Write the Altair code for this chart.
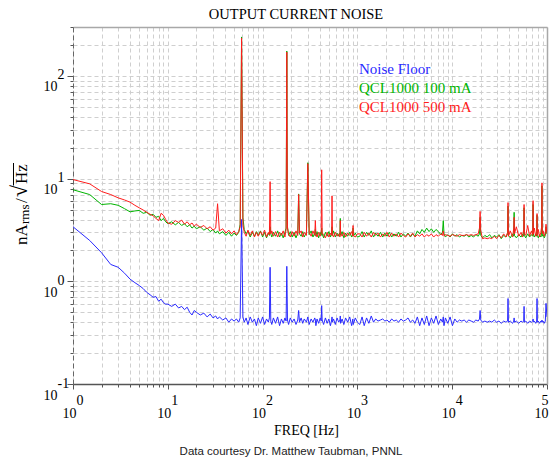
import altair as alt
import pandas as pd

TITLE = "OUTPUT CURRENT NOISE"
X_TITLE = "FREQ [Hz]"
FOOTER = "Data courtesy Dr. Matthew Taubman, PNNL"
series_names = ["Noise Floor", "QCL1000 100 mA", "QCL1000 500 mA"]
series_colors = ["#2a2aff", "#00b400", "#ff1c1c"]
y_title_parts = ["nA", "rms", "/", "\u221a", "Hz"]

x_tick_values = [m * d for d in [1, 10, 100, 1000, 10000] for m in range(1, 10)] + [100000]
y_tick_values = [m * d for d in [0.1, 1, 10] for m in range(1, 10)] + [100, 200, 300]

# ---- frequency bins (Hz) ----
freq_a = [1, 1.5, 2, 2.5, 3, 3.5, 4, 4.5, 5, 5.5, 6, 6.5, 7, 7.5, 8, 8.5, 9, 9.5]
freq_b = [10, 11, 12, 13, 14, 15, 16, 17, 18, 19, 20, 22, 24, 26, 28, 30, 32, 33.5,
          35, 38, 41, 44, 47, 50, 53, 56, 58]
freq_c = [60, 62, 64, 67, 70, 74, 78, 82, 86, 90,
          95, 100, 105, 110, 115, 118, 120, 122, 125, 130,
          137, 144, 151, 158, 165, 172, 177, 180, 183, 188,
          196, 205, 215, 225, 235, 240, 245, 255, 265, 275,
          290, 300, 310, 325, 340, 355, 360, 365, 375, 390,
          405, 415, 420, 425, 440, 460, 480, 500, 520, 535,
          540, 545, 560, 585, 610, 635, 655, 660, 665, 690,
          720, 750, 790, 830, 870, 895, 900, 905, 950, 1000]
freq_d = [1060, 1120, 1180, 1250, 1320, 1400, 1480, 1560, 1650, 1750,
          1850, 1950, 2050, 2170, 2300, 2430, 2570, 2720, 2880, 3050,
          3230, 3420, 3620, 3830, 4050, 4290, 4540, 4800, 5080, 5380,
          5700, 6030, 6380, 6750, 7150, 7570, 7900, 8050, 8200, 8480,
          8980, 9500, 10060, 10650, 11270, 11930, 12630, 13370, 14150, 14980,
          15860, 16790, 17770, 18810, 19400, 19700, 20000, 20900, 22100, 23400,
          24800, 26200, 27800, 29400, 31100, 32900, 34900, 36900, 38400, 38800,
          39200, 41000, 43400, 44600, 45000, 45400, 47500, 50300, 53200, 55300,
          56800, 57300, 57800, 59700, 62600, 65500, 68600, 70600, 71300, 72000,
          73500, 76000, 77800, 78500, 79200, 81000, 83500, 86000, 87800, 88500,
          89200, 91000, 93500, 96000, 97600, 100000]

# ---- Noise Floor (nA rms / sqrt(Hz)) ----
floor_a = [3.4, 2.5, 1.9, 1.46, 1.37, 1.2, 1.05, 0.97, 0.91, 0.85, 0.78, 0.74, 0.70, 0.71,
           0.64, 0.67, 0.62, 0.60]
floor_b = [0.60, 0.57, 0.60, 0.55, 0.57, 0.53, 0.56, 0.50, 0.47, 0.52,
           0.50, 0.47, 0.49, 0.45, 0.48, 0.44, 0.46, 0.43, 0.45, 0.42,
           0.44, 0.40, 0.43, 0.41, 0.43, 0.40, 0.44]
floor_c = [4.0, 0.45, 0.40, 0.44, 0.38, 0.45, 0.40, 0.43, 0.37, 0.44,
           0.39, 0.45, 0.38, 0.43, 0.40, 0.44, 1.37, 0.41, 0.38, 0.44,
           0.39, 0.45, 0.37, 0.43, 0.39, 0.44, 0.41, 1.40, 0.42, 0.38,
           0.44, 0.40, 0.43, 0.38, 0.42, 0.52, 0.40, 0.44, 0.39, 0.43,
           0.40, 0.45, 0.38, 0.43, 0.40, 0.44, 0.42, 0.37, 0.43, 0.39,
           0.44, 0.41, 0.58, 0.42, 0.38, 0.44, 0.39, 0.43, 0.37, 0.42,
           0.45, 0.40, 0.43, 0.38, 0.44, 0.40, 0.42, 0.46, 0.39, 0.43,
           0.38, 0.44, 0.40, 0.45, 0.37, 0.43, 0.41, 0.38, 0.44, 0.40]
floor_d = [0.38, 0.45, 0.37, 0.44, 0.39, 0.46, 0.40, 0.43, 0.41, 0.42,
           0.43, 0.41, 0.42, 0.40, 0.43, 0.41, 0.42, 0.40, 0.43, 0.41,
           0.42, 0.44, 0.40, 0.42, 0.39, 0.45, 0.37, 0.44, 0.38, 0.46,
           0.37, 0.44, 0.39, 0.46, 0.38, 0.43, 0.40, 0.45, 0.37, 0.44,
           0.39, 0.45, 0.37, 0.43, 0.40, 0.42, 0.41, 0.42, 0.40, 0.42,
           0.41, 0.40, 0.42, 0.41, 0.43, 0.52, 0.42, 0.40, 0.41, 0.40,
           0.41, 0.40, 0.42, 0.40, 0.41, 0.39, 0.41, 0.40, 0.41, 0.68,
           0.40, 0.41, 0.39, 0.41, 0.44, 0.40, 0.41, 0.39, 0.41, 0.40,
           0.41, 0.57, 0.40, 0.41, 0.39, 0.41, 0.40, 0.41, 0.43, 0.40,
           0.41, 0.39, 0.41, 0.68, 0.40, 0.41, 0.39, 0.41, 0.40, 0.42,
           0.40, 0.41, 0.39, 0.41, 0.61, 0.45]

# ---- QCL1000 100 mA ----
q100_a = [7.8, 7.0, 5.6, 5.7, 5.5, 5.1, 4.75, 4.85, 4.9, 4.6, 4.7, 4.4, 4.5, 4.2, 4.3, 3.9,
          4.1, 3.8]
q100_b = [3.65, 3.8, 3.55, 3.75, 3.5, 3.65, 3.4, 3.55, 3.3, 3.45,
          3.25, 3.4, 3.15, 3.3, 3.05, 3.2, 2.95, 3.1, 2.9, 3.05,
          2.8, 3.0, 2.75, 2.95, 2.8, 3.0, 3.6]
q100_c = [240, 4.2, 3.2, 2.9, 3.1, 2.7, 3.0, 2.75, 3.05, 2.8,
          3.1, 2.7, 3.0, 2.65, 2.95, 2.8, 3.4, 2.9, 2.7, 3.0,
          2.75, 3.1, 2.7, 2.95, 2.65, 3.0, 3.3, 175, 3.4, 2.8,
          3.05, 2.7, 3.0, 2.65, 2.95, 7.1, 2.9, 2.75, 3.05, 2.7,
          3.0, 14.3, 2.85, 3.1, 2.7, 2.95, 3.2, 2.75, 3.05, 2.65,
          3.0, 2.8, 3.3, 2.9, 2.65, 3.0, 2.75, 3.05, 2.7, 2.95,
          3.4, 2.8, 3.1, 2.7, 2.95, 2.75, 3.0, 4.1, 2.8, 3.05,
          2.65, 2.95, 2.75, 3.0, 2.7, 2.9, 3.3, 2.75, 2.95, 2.7]
q100_d = [2.75, 3.05, 2.7, 3.0, 2.8, 3.1, 2.7, 2.95, 2.75, 3.0,
          2.7, 2.95, 2.75, 3.0, 2.7, 2.9, 2.75, 3.0, 2.7, 2.9,
          2.75, 2.95, 2.7, 2.9, 2.75, 3.1, 2.9, 3.2, 3.0, 3.3,
          3.05, 3.25, 3.0, 3.2, 3.05, 2.85, 3.0, 3.9, 2.9, 2.7,
          2.85, 2.7, 2.9, 2.75, 2.85, 2.7, 2.8, 2.75, 2.85, 2.7,
          2.8, 2.7, 2.85, 2.75, 2.9, 4.2, 2.8, 2.65, 2.8, 2.7,
          2.85, 2.65, 2.8, 2.7, 2.85, 2.6, 2.8, 2.7, 2.9, 5.4,
          2.8, 2.65, 2.9, 2.75, 4.7, 2.8, 2.65, 2.85, 2.7, 2.9,
          2.75, 5.2, 2.8, 2.65, 2.9, 2.7, 2.85, 2.75, 5.6, 2.8,
          2.7, 2.9, 2.75, 4.4, 2.8, 2.65, 2.85, 2.7, 2.8, 8.5,
          2.75, 2.85, 2.65, 2.8, 3.4, 2.9]

# ---- QCL1000 500 mA ----
q500_a = [9.8, 8.9, 7.5, 7.0, 6.5, 6.2, 5.9, 5.5, 5.2, 4.95, 4.7, 4.5, 4.35, 4.1, 3.9, 4.6,
          4.4, 4.0]
q500_b = [3.7, 3.6, 3.9, 3.75, 3.95, 3.6, 3.8, 3.55, 3.7, 3.45,
          3.6, 3.35, 3.5, 3.25, 3.4, 3.15, 3.3, 5.7, 3.1, 3.25,
          2.95, 3.15, 2.9, 3.1, 2.85, 3.05, 3.4]
q500_c = [234, 3.6, 3.0, 2.75, 3.15, 2.8, 3.1, 2.7, 3.0, 2.75,
          3.05, 2.8, 3.15, 2.7, 3.0, 2.85, 9.35, 2.9, 3.1, 2.75,
          3.05, 2.7, 3.0, 2.8, 3.1, 2.7, 3.2, 171, 3.3, 2.9,
          2.7, 3.05, 2.75, 3.1, 2.8, 7.0, 2.95, 3.1, 2.7, 3.0,
          2.8, 14.0, 3.0, 2.75, 3.1, 2.8, 3.91, 2.9, 2.7, 3.0,
          2.75, 2.95, 12.2, 3.0, 2.8, 2.65, 3.0, 2.7, 2.95, 2.8,
          6.8, 2.9, 2.7, 3.0, 2.75, 2.9, 2.7, 3.9, 2.95, 2.75,
          3.0, 2.7, 2.95, 2.8, 3.05, 2.75, 3.5, 2.8, 2.7, 2.9]
q500_d = [2.9, 2.7, 3.0, 2.75, 2.95, 2.7, 3.0, 2.8, 2.95, 2.7,
          2.9, 2.75, 3.0, 2.7, 2.95, 2.75, 2.9, 2.7, 2.95, 2.8,
          2.7, 2.9, 2.75, 2.95, 2.7, 2.85, 2.75, 2.9, 2.7, 2.85,
          2.75, 2.9, 2.7, 2.85, 2.75, 2.9, 2.8, 3.1, 2.75, 2.85,
          2.8, 2.75, 2.85, 2.8, 2.75, 2.85, 2.8, 2.8, 2.85, 2.8,
          2.85, 2.8, 2.85, 2.9, 3.3, 4.8, 3.1, 2.6, 2.65, 2.6,
          2.65, 2.6, 2.75, 2.6, 2.8, 2.65, 2.9, 2.7, 3.0, 5.85,
          2.75, 3.1, 2.7, 3.3, 4.2, 2.9, 3.4, 2.75, 3.0, 2.7,
          3.2, 5.6, 2.9, 2.8, 3.5, 2.75, 3.1, 2.8, 6.1, 2.9,
          3.3, 2.75, 3.0, 4.57, 2.8, 3.2, 2.7, 3.0, 3.4, 9.1,
          2.9, 3.1, 2.75, 3.0, 3.6, 2.9]

df = pd.DataFrame({
    "freq": freq_a + freq_b + freq_c + freq_d,
    "floor": floor_a + floor_b + floor_c + floor_d,
    "q100": q100_a + q100_b + q100_c + q100_d,
    "q500": q500_a + q500_b + q500_c + q500_d,
})

# zero-width space keeps the non-breaking spaces from being trimmed
PAD4 = "\u200b" + "\u00a0" * 4
PAD2 = "\u200b" + "\u00a0" * 2
IS_DEC = "abs(log(datum.value)/LN10 - round(log(datum.value)/LN10)) < 0.001"
EXP = "round(log(datum.value)/LN10)"
Y_LABEL_EXPR = f"{IS_DEC} ? ['{PAD4}' + {EXP}, '10'] : ''"
X_LABEL_EXPR = (f"{IS_DEC} ? [(datum.value > 50000 ? '{PAD2}' : '{PAD4}') + {EXP}, '10'] : ''")
SERIF = "Liberation Serif"

x_scale = alt.Scale(type="log", domain=[1, 100000], nice=False)
y_scale = alt.Scale(type="log", domain=[0.1, 300], nice=False)

x_axis = alt.Axis(
    values=x_tick_values, labelExpr=X_LABEL_EXPR, labelFont=SERIF, labelFontSize=14,
    labelColor="black", labelAlign="left", labelBaseline="middle", labelLineHeight=13,
    labelOffset={"condition": {"test": "datum.value > 50000", "value": -13}, "value": -11},
    labelPadding=11, labelOverlap=False, labelFlush=False,
    tickSize={"condition": {"test": IS_DEC, "value": 5}, "value": 3},
    tickColor="#555555", domainColor="#555555", domainWidth=1.5,
    grid=True, gridColor="#cfcfcf", gridDash=[4, 3],
    title=X_TITLE, titleFont=SERIF, titleFontSize=14, titleFontWeight="normal",
    titleColor="black", titleX=233, titleY=46, titleAlign="center", titleBaseline="middle",
)
y_axis = alt.Axis(
    values=y_tick_values, labelExpr=Y_LABEL_EXPR, labelFont=SERIF, labelFontSize=14,
    labelColor="black", labelAlign="left", labelBaseline="middle", labelLineHeight=12,
    labelOffset=-1, labelPadding=24, labelOverlap=False, labelFlush=False,
    tickSize={"condition": {"test": IS_DEC, "value": 6}, "value": 3},
    tickColor="#555555", domainColor="#666666", domainDash=[5, 3], domainWidth=1,
    grid=True, gridColor="#cfcfcf", gridDash=[4, 3], title=None,
)

base = alt.Chart(df)
lines = []
for field, color in zip(["floor", "q100", "q500"], series_colors):
    lines.append(
        base.mark_line(color=color, strokeWidth=1, clip=True).encode(
            x=alt.X("freq:Q", scale=x_scale, axis=x_axis),
            y=alt.Y(f"{field}:Q", scale=y_scale, axis=y_axis),
        )
    )


def text_layer(text, x, y, size, color="black", angle=0, align="left",
               font=SERIF, baseline="alphabetic"):
    return alt.Chart(pd.DataFrame({"t": [text]})).mark_text(
        font=font, fontSize=size, color=color, angle=angle, align=align, baseline=baseline
    ).encode(text="t:N", x=alt.value(x), y=alt.value(y))


texts = [
    text_layer(TITLE, 223, -12, 14.5, align="center", baseline="middle"),
    text_layer(series_names[0], 286, 47, 15, series_colors[0]),
    text_layer(series_names[1], 286, 66, 15, series_colors[1]),
    text_layer(series_names[2], 286, 85, 15, series_colors[2]),
    text_layer(FOOTER, 218, 428, 11.5, "#222222", align="center",
               font="Liberation Sans"),
    text_layer(y_title_parts[0], -46, 218, 17, angle=270),
    text_layer(y_title_parts[1], -44, 197, 13, angle=270),
    text_layer(y_title_parts[2], -46, 176, 17, angle=270),
    text_layer(y_title_parts[3], -46, 170, 22, angle=270),
    text_layer(y_title_parts[4], -46, 157, 17, angle=270),
]
vinculum = alt.Chart(pd.DataFrame({"t": [0]})).mark_rule(color="black", strokeWidth=1).encode(
    x=alt.value(-59.5), y=alt.value(158.5), y2=alt.value(136)
)

inner = alt.layer(*lines, *texts, vinculum)

border = base.mark_line(opacity=0).encode(
    x=alt.X("freq:Q", scale=x_scale, axis=alt.Axis(
        orient="top", labels=False, ticks=False, grid=False, title=None,
        domainColor="#a8a8a8", domainWidth=1.5)),
    y=alt.Y("floor:Q", scale=y_scale, axis=alt.Axis(
        orient="right", labels=False, ticks=False, grid=False, title=None,
        domainColor="#a8a8a8", domainWidth=1.5)),
)

chart = alt.layer(inner, border).resolve_axis(x="independent", y="independent").properties(
    width=474, height=357,
    autosize=alt.AutoSizeParams(type="none"),
    padding={"left": 65, "top": 19, "right": 2, "bottom": 75},
).configure_view(stroke="transparent")

chart.save("out.html", embed_options={"renderer": "svg", "actions": False})
